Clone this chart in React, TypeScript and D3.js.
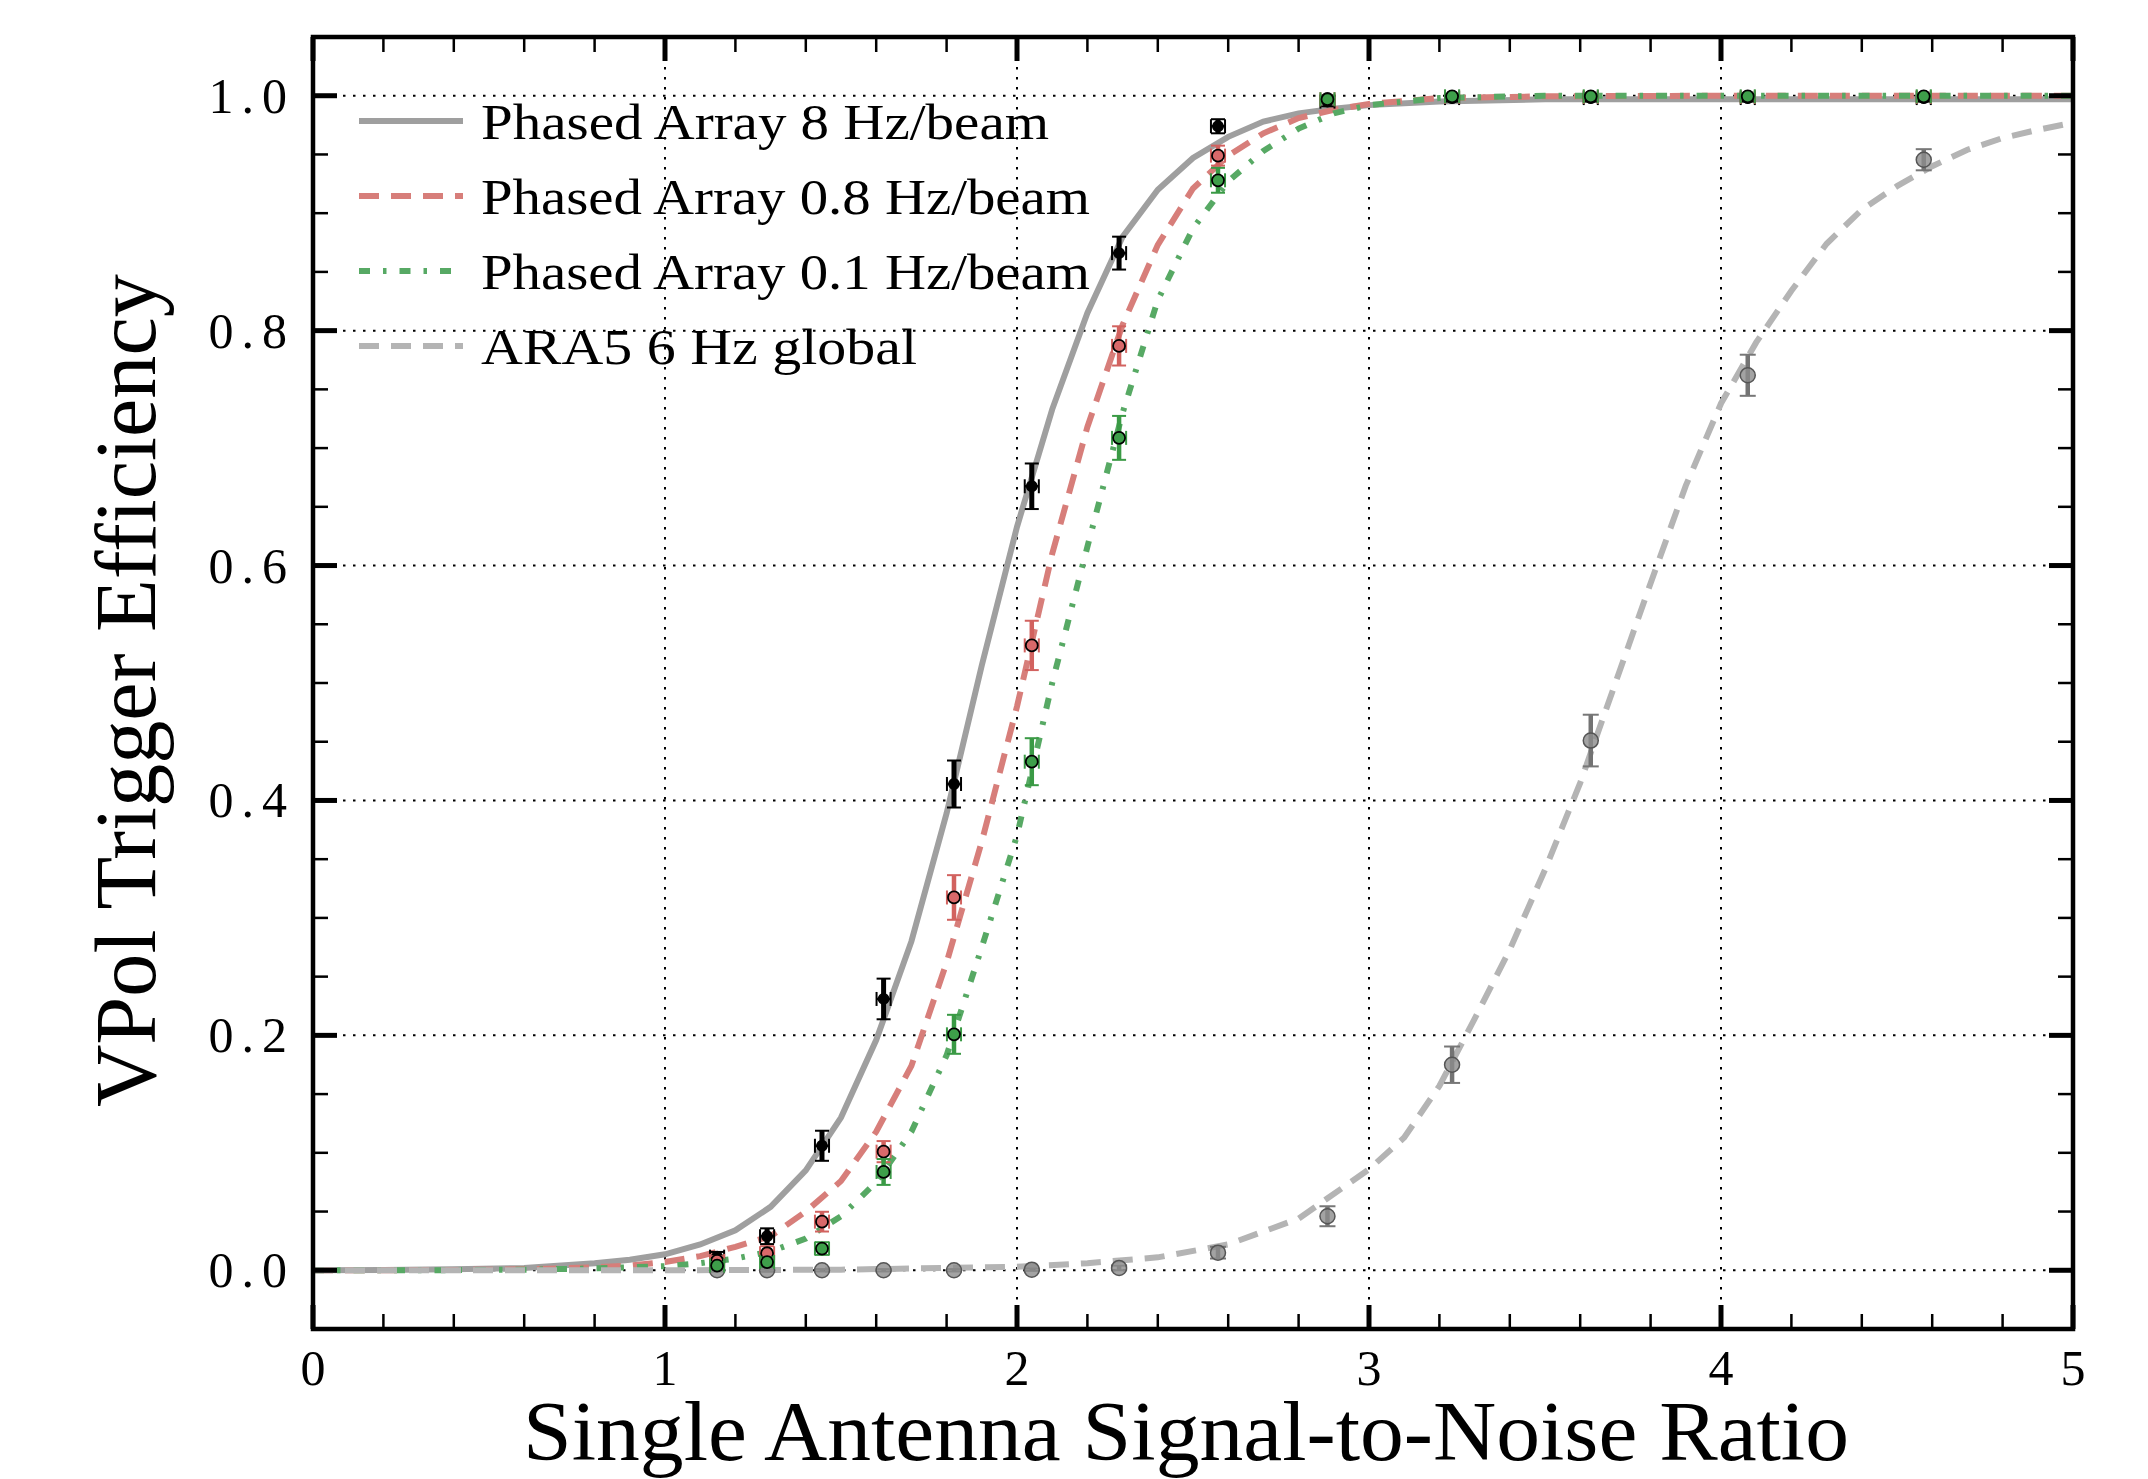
import React, { useEffect } from 'react';
import * as d3 from 'd3';

// measured data points (SNR, efficiency, error)
const SNR_POINTS = [1.148, 1.29, 1.446, 1.621, 1.821, 2.042, 2.29, 2.571, 2.882, 3.236, 3.63, 4.076, 4.576];
const EFF_8HZ = [0.0116, 0.029, 0.106, 0.231, 0.414, 0.6675, 0.866, 0.974, 0.995, 0.998, 0.998, 0.998, 0.998];
const ERR_8HZ = [0.004, 0.0067, 0.0128, 0.0173, 0.02, 0.0194, 0.014, 0.006, 0.004, 0.003, 0.003, 0.003, 0.003];
const EFF_08HZ = [0.008, 0.0145, 0.0414, 0.101, 0.3174, 0.532, 0.787, 0.949, 0.997, 0.999, 0.999, 0.999, 0.999];
const ERR_08HZ = [0.004, 0.006, 0.0084, 0.009, 0.019, 0.021, 0.0167, 0.0085, 0.003, 0.002, 0.002, 0.002, 0.002];
const EFF_01HZ = [0.004, 0.007, 0.0185, 0.0837, 0.2009, 0.433, 0.7087, 0.928, 0.997, 0.9995, 0.9995, 0.9995, 0.9995];
const ERR_01HZ = [0.003, 0.004, 0.0054, 0.011, 0.0166, 0.02, 0.0187, 0.0106, 0.003, 0.002, 0.002, 0.002, 0.002];
const EFF_ARA = [0, 0, 0, 0, 0, 0.0005, 0.002, 0.015, 0.046, 0.175, 0.451, 0.762, 0.9455];
const ERR_ARA = [0.001, 0.001, 0.001, 0.001, 0.001, 0.001, 0.002, 0.005, 0.0085, 0.0155, 0.022, 0.0175, 0.009];
const SNR_ERR = 0.02;

// fitted curves
const CURVE_SNR = [0, 0.2, 0.4, 0.6, 0.8, 0.9, 1.0, 1.1, 1.2, 1.3, 1.4, 1.5, 1.6, 1.7, 1.8, 1.9, 2.0, 2.1, 2.2, 2.3, 2.4, 2.5, 2.6, 2.7, 2.8, 2.9, 3.0, 3.2, 3.5, 4.0, 5.0];
const FIT_8HZ = [0, 0.0003, 0.0008, 0.002, 0.006, 0.009, 0.0136, 0.022, 0.034, 0.054, 0.085, 0.13, 0.196, 0.28, 0.389, 0.515, 0.633, 0.733, 0.815, 0.88, 0.92, 0.947, 0.965, 0.978, 0.985, 0.989, 0.992, 0.995, 0.997, 0.997, 0.997];
const FIT_08HZ = [0, 0.0001, 0.0002, 0.0008, 0.0025, 0.004, 0.007, 0.012, 0.02, 0.029, 0.05, 0.076, 0.118, 0.174, 0.262, 0.365, 0.48, 0.61, 0.718, 0.805, 0.873, 0.921, 0.949, 0.968, 0.981, 0.988, 0.993, 0.998, 0.9995, 1.0, 1.0];
const FIT_01HZ = [0, 0, 0.0001, 0.0005, 0.0016, 0.0025, 0.0035, 0.006, 0.01, 0.016, 0.027, 0.046, 0.075, 0.118, 0.183, 0.275, 0.37, 0.5, 0.616, 0.73, 0.826, 0.887, 0.927, 0.953, 0.972, 0.985, 0.992, 0.998, 1.0, 1.0, 1.0];
const ARA_SNR = [0, 1.0, 1.5, 2.0, 2.2, 2.4, 2.6, 2.8, 3.0, 3.1, 3.2, 3.3, 3.4, 3.5, 3.6, 3.7, 3.8, 3.9, 4.0, 4.1, 4.2, 4.3, 4.4, 4.5, 4.6, 4.7, 4.8, 4.9, 5.0];
const FIT_ARA = [0, 0, 0.0005, 0.003, 0.006, 0.011, 0.022, 0.044, 0.086, 0.113, 0.157, 0.214, 0.273, 0.341, 0.415, 0.5, 0.585, 0.668, 0.738, 0.79, 0.834, 0.874, 0.903, 0.923, 0.94, 0.954, 0.964, 0.971, 0.977];

const LEGEND_LABELS = ['Phased Array 8 Hz/beam', 'Phased Array 0.8 Hz/beam', 'Phased Array 0.1 Hz/beam', 'ARA5 6 Hz global'];
const X_TICKS = [0, 1, 2, 3, 4, 5];
const Y_TICKS = [0, 0.2, 0.4, 0.6, 0.8, 1.0];

const W = 2148;
const H = 1479;
const M = { left: 313, right: 2073, top: 37, bottom: 1329 };
const FONT = '"Liberation Serif", "DejaVu Serif", serif';

export default function App() {
  useEffect(() => {
    document.body.style.margin = '0';
  }, []);

  const x = d3.scaleLinear().domain([0, 5]).range([M.left, M.right]);
  const y = d3.scaleLinear().domain([-0.05, 1.05]).range([M.bottom, M.top]);

  const line = (xs: number[], ys: number[]) =>
    d3.line<number>().x((d, i) => x(xs[i])).y(d => y(d))(ys) || '';

  const curves = [
    { d: line(CURVE_SNR, FIT_8HZ), color: '#9f9f9f', dash: 'none' },
    { d: line(CURVE_SNR, FIT_08HZ), color: '#d77e7a', dash: '20 12' },
    { d: line(CURVE_SNR, FIT_01HZ), color: '#57a964', dash: '11 13 3.5 13' },
    { d: line(ARA_SNR, FIT_ARA), color: '#b4b4b4', dash: '20 12' },
  ];

  const xMinor = d3.range(0, 5.001, 0.2).filter(v => Math.abs(v - Math.round(v)) > 1e-6);
  const yMinor = d3.range(0, 1.0001, 0.05).filter(v => Math.abs(v * 5 - Math.round(v * 5)) > 1e-6);
  const fmt = d3.format('.1f');

  const cap = 7;
  const pointSeries = [
    { ys: EFF_8HZ, es: ERR_8HZ, bar: '#000', fill: '#000', stroke: '#000', r: 5, bw: 5 },
    { ys: EFF_08HZ, es: ERR_08HZ, bar: '#d2625f', fill: '#d9696a', stroke: '#000', r: 6, bw: 4.5 },
    { ys: EFF_01HZ, es: ERR_01HZ, bar: '#3a9a45', fill: '#3e9f4a', stroke: '#000', r: 6, bw: 4.5 },
  ];

  return (
    <svg width={W} height={H} style={{ display: 'block', background: '#fff' }}>
      <defs>
        <clipPath id="plot">
          <rect x={M.left} y={M.top} width={M.right - M.left} height={M.bottom - M.top} />
        </clipPath>
      </defs>

      {/* grid */}
      <g stroke="#000" strokeWidth={2} strokeDasharray="2.5 7.5">
        {X_TICKS.slice(1, -1).map(t => (
          <line key={'gx' + t} x1={x(t)} x2={x(t)} y1={M.top} y2={M.bottom} />
        ))}
        {Y_TICKS.map(t => (
          <line key={'gy' + t} x1={M.left} x2={M.right} y1={y(t)} y2={y(t)} />
        ))}
      </g>

      {/* fitted curves */}
      <g clipPath="url(#plot)">
        {curves.map((c, i) => (
          <path key={'c' + i} d={c.d} fill="none" stroke={c.color} strokeWidth={6}
            strokeDasharray={c.dash} />
        ))}
      </g>

      {/* ARA5 points */}
      <g>
        {SNR_POINTS.map((s, i) => {
          const cx = x(s), cy = y(EFF_ARA[i]);
          const y0 = y(EFF_ARA[i] - ERR_ARA[i]), y1 = y(EFF_ARA[i] + ERR_ARA[i]);
          return (
            <g key={'ara' + i}>
              <line x1={cx} x2={cx} y1={y0} y2={y1} stroke="#737373" strokeWidth={4.5} />
              <line x1={cx - 8} x2={cx + 8} y1={y0} y2={y0} stroke="#777" strokeWidth={2} />
              <line x1={cx - 8} x2={cx + 8} y1={y1} y2={y1} stroke="#777" strokeWidth={2} />
              <circle cx={cx} cy={cy} r={7.5} fill="#8c8c8c" fillOpacity={0.8} stroke="#555" strokeWidth={1.5} />
            </g>
          );
        })}
      </g>

      {/* phased array points */}
      {pointSeries.map((p, k) => (
        <g key={'ps' + k}>
          {SNR_POINTS.map((s, i) => {
            const cx = x(s), cy = y(p.ys[i]);
            const y0 = y(p.ys[i] - p.es[i]), y1 = y(p.ys[i] + p.es[i]);
            const x0 = x(s - SNR_ERR), x1 = x(s + SNR_ERR);
            return (
              <g key={'p' + i}>
                <line x1={cx} x2={cx} y1={y0} y2={y1} stroke={p.bar} strokeWidth={p.bw} />
                <line x1={cx - cap} x2={cx + cap} y1={y0} y2={y0} stroke={p.bar} strokeWidth={2} />
                <line x1={cx - cap} x2={cx + cap} y1={y1} y2={y1} stroke={p.bar} strokeWidth={2} />
                <line x1={x0} x2={x1} y1={cy} y2={cy} stroke={p.bar} strokeWidth={2.5} />
                <line x1={x0} x2={x0} y1={cy - cap} y2={cy + cap} stroke={p.bar} strokeWidth={2} />
                <line x1={x1} x2={x1} y1={cy - cap} y2={cy + cap} stroke={p.bar} strokeWidth={2} />
                <circle cx={cx} cy={cy} r={p.r} fill={p.fill} stroke={p.stroke} strokeWidth={1.8} />
              </g>
            );
          })}
        </g>
      ))}

      {/* ticks, all four sides, inward */}
      <g stroke="#000">
        {X_TICKS.map(t => (
          <g key={'tx' + t} strokeWidth={5}>
            <line x1={x(t)} x2={x(t)} y1={M.bottom} y2={M.bottom - 24} />
            <line x1={x(t)} x2={x(t)} y1={M.top} y2={M.top + 24} />
          </g>
        ))}
        {xMinor.map(t => (
          <g key={'mx' + t} strokeWidth={2.5}>
            <line x1={x(t)} x2={x(t)} y1={M.bottom} y2={M.bottom - 15} />
            <line x1={x(t)} x2={x(t)} y1={M.top} y2={M.top + 15} />
          </g>
        ))}
        {Y_TICKS.map(t => (
          <g key={'ty' + t} strokeWidth={5}>
            <line x1={M.left} x2={M.left + 24} y1={y(t)} y2={y(t)} />
            <line x1={M.right} x2={M.right - 24} y1={y(t)} y2={y(t)} />
          </g>
        ))}
        {yMinor.map(t => (
          <g key={'my' + t} strokeWidth={2.5}>
            <line x1={M.left} x2={M.left + 15} y1={y(t)} y2={y(t)} />
            <line x1={M.right} x2={M.right - 15} y1={y(t)} y2={y(t)} />
          </g>
        ))}
      </g>

      {/* frame */}
      <rect x={M.left} y={M.top} width={M.right - M.left} height={M.bottom - M.top}
        fill="none" stroke="#000" strokeWidth={4.5} />

      {/* tick labels */}
      <g fontFamily={FONT} fontSize={50} fill="#000">
        {X_TICKS.map(t => (
          <text key={'lx' + t} x={x(t)} y={1385} textAnchor="middle">{t}</text>
        ))}
        {Y_TICKS.map(t => (
          <text key={'ly' + t} x={295} y={y(t) + 17} textAnchor="end" letterSpacing={8}>{fmt(t)}</text>
        ))}
      </g>

      {/* axis labels */}
      <text x={(523 + 1849) / 2} y={1460} textAnchor="middle" fontFamily={FONT} fontSize={84}
        textLength={1326} lengthAdjust="spacingAndGlyphs">
        Single Antenna Signal-to-Noise Ratio
      </text>
      <text transform={`translate(155, ${(274 + 1107) / 2}) rotate(-90)`} textAnchor="middle"
        fontFamily={FONT} fontSize={86} textLength={833} lengthAdjust="spacingAndGlyphs">
        VPol Trigger Efficiency
      </text>

      {/* legend */}
      <g fontFamily={FONT} fontSize={50}>
        {LEGEND_LABELS.map((lab, i) => {
          const ly = 121 + i * 75;
          const widths = [568, 609, 609, 436];
          return (
            <g key={'lg' + i}>
              <line x1={359} x2={463} y1={ly} y2={ly} stroke={curves[i].color} strokeWidth={6}
                strokeDasharray={curves[i].dash} />
              <text x={481} y={ly + 18} textLength={widths[i]} lengthAdjust="spacingAndGlyphs">{lab}</text>
            </g>
          );
        })}
      </g>
    </svg>
  );
}
